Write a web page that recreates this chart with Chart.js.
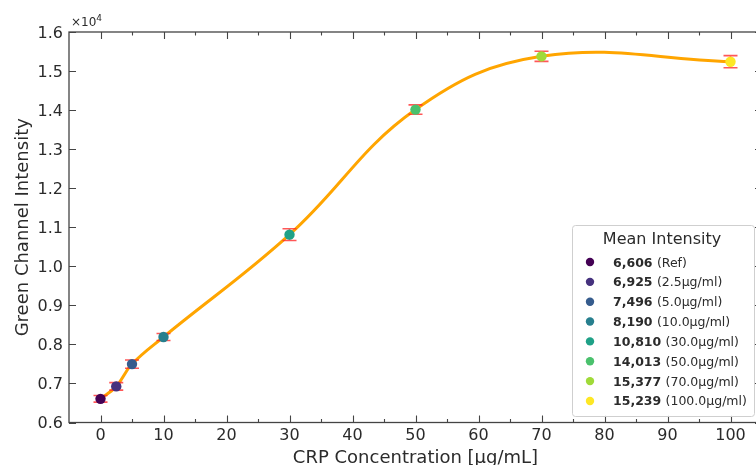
<!DOCTYPE html>
<html>
<head>
<meta charset="utf-8">
<script src="https://cdn.jsdelivr.net/npm/chart.js@4.4.1/dist/chart.umd.min.js"></script>
<style>
    html, body { margin: 0; padding: 0; background: #fff; overflow: hidden; }
    #wrap { width: 756px; height: 465px; overflow: hidden; }
</style>
</head>
<body>
<div id="wrap"><canvas id="myChart" width="775" height="465"></canvas></div>
<script>
// CRP concentration (µg/mL) vs mean green channel intensity
const concentrations = [0, 2.5, 5, 10, 30, 50, 70, 100]
const intensities = [6606, 6925, 7496, 8190, 10810, 14013, 15377, 15239]
const errors = [85, 95, 105, 90, 150, 120, 130, 155]
const legendLabels = ['(Ref)', '(2.5µg/ml)', '(5.0µg/ml)', '(10.0µg/ml)', '(30.0µg/ml)', '(50.0µg/ml)', '(70.0µg/ml)', '(100.0µg/ml)']
// viridis, one colour per sample
const pointColors = ['#440154', '#46327e', '#365c8d', '#277f8e', '#1fa187', '#4ac16d', '#a0da39', '#fde725']

const xTicks = [0, 10, 20, 30, 40, 50, 60, 70, 80, 90, 100]
const xMinorTicks = [5, 15, 25, 35, 45, 55, 65, 75, 85, 95]
const yTicks = [6000, 7000, 8000, 9000, 10000, 11000, 12000, 13000, 14000, 15000, 16000]

const xTitle = 'CRP Concentration [µg/mL]'
const yTitle = 'Green Channel Intensity'
const legendTitle = 'Mean Intensity'

const textColor = '#2b2b2b'
const spineColor = '#444'
const font = '"DejaVu Sans", Verdana, sans-serif'

const points = concentrations.map((c, i) => ({ x: c, y: intensities[i] }))

// error bars go in between the curve and the markers
const errorBars = {
    id: 'errorBars',
    beforeDatasetDraw(chart, args) {
        if (args.index !== 0) return
        const { ctx } = chart
        const x = chart.scales.x
        const y = chart.scales.y
        ctx.save()
        ctx.strokeStyle = 'rgba(255, 45, 45, 0.8)'
        ctx.lineWidth = 1.6
        concentrations.forEach((c, i) => {
            const px = x.getPixelForValue(c)
            const top = y.getPixelForValue(intensities[i] + errors[i])
            const bot = y.getPixelForValue(intensities[i] - errors[i])
            ctx.beginPath()
            ctx.moveTo(px, top); ctx.lineTo(px, bot)
            ctx.moveTo(px - 7, top); ctx.lineTo(px + 7, top)
            ctx.moveTo(px - 7, bot); ctx.lineTo(px + 7, bot)
            ctx.stroke()
        })
        ctx.restore()
    }
}

// matplotlib-style frame: spines, inward ticks, labels, titles and legend
const frame = {
    id: 'frame',
    afterDraw(chart) {
        const { ctx, chartArea: a } = chart
        const x = chart.scales.x
        const y = chart.scales.y
        ctx.save()

        ctx.strokeStyle = spineColor
        ctx.lineWidth = 1.3
        ctx.strokeRect(a.left, a.top, a.right - a.left, a.bottom - a.top)

        ctx.lineWidth = 1.1
        ctx.beginPath()
        xTicks.forEach(v => {
            const px = Math.round(x.getPixelForValue(v)) + 0.5
            ctx.moveTo(px, a.bottom); ctx.lineTo(px, a.bottom - 7)
            ctx.moveTo(px, a.top); ctx.lineTo(px, a.top + 7)
        })
        xMinorTicks.forEach(v => {
            const px = Math.round(x.getPixelForValue(v)) + 0.5
            ctx.moveTo(px, a.bottom); ctx.lineTo(px, a.bottom - 3.5)
            ctx.moveTo(px, a.top); ctx.lineTo(px, a.top + 3.5)
        })
        yTicks.forEach(v => {
            const py = Math.round(y.getPixelForValue(v)) + 0.5
            ctx.moveTo(a.left, py); ctx.lineTo(a.left + 7, py)
            ctx.moveTo(a.right, py); ctx.lineTo(a.right - 7, py)
        })
        ctx.stroke()

        ctx.fillStyle = textColor
        ctx.font = '16px ' + font
        ctx.textAlign = 'center'
        xTicks.forEach(v => ctx.fillText(String(v), x.getPixelForValue(v), a.bottom + 17.5))
        ctx.textAlign = 'right'
        yTicks.forEach(v => ctx.fillText((v / 1e4).toFixed(1), a.left - 6, y.getPixelForValue(v) + 5.8))

        // offset text
        ctx.textAlign = 'left'
        ctx.font = '12px ' + font
        ctx.fillText('×10', a.left + 2, a.top - 6)
        const w = ctx.measureText('×10').width
        ctx.font = '9px ' + font
        ctx.fillText('4', a.left + 2 + w, a.top - 11)

        ctx.font = '18px ' + font
        ctx.textAlign = 'center'
        ctx.fillText(xTitle, (a.left + a.right) / 2, a.bottom + 40.5)
        ctx.save()
        ctx.translate(28, (a.top + a.bottom) / 2)
        ctx.rotate(-Math.PI / 2)
        ctx.fillText(yTitle, 0, 0)
        ctx.restore()

        // legend box
        const lx = 572, ly = 225, lw = 182, lh = 191
        ctx.beginPath()
        ctx.roundRect(lx + 0.5, ly + 0.5, lw, lh, 3)
        ctx.fillStyle = 'rgba(255, 255, 255, 0.85)'
        ctx.fill()
        ctx.strokeStyle = '#cfcfcf'
        ctx.lineWidth = 1
        ctx.stroke()

        ctx.fillStyle = textColor
        ctx.font = '16px ' + font
        ctx.textAlign = 'center'
        ctx.fillText(legendTitle, lx + 90, ly + 18.5)

        ctx.textAlign = 'left'
        intensities.forEach((v, i) => {
            const cy = ly + 37 + i * 19.85
            ctx.beginPath()
            ctx.arc(lx + 18, cy, 4.2, 0, Math.PI * 2)
            ctx.fillStyle = pointColors[i]
            ctx.fill()
            ctx.fillStyle = textColor
            ctx.font = 'bold 12.5px ' + font
            const value = v.toLocaleString('en-US')
            ctx.fillText(value, lx + 41, cy + 4.5)
            const vw = ctx.measureText(value + ' ').width
            ctx.font = '12.5px ' + font
            ctx.fillText(legendLabels[i], lx + 41 + vw, cy + 4.5)
        })

        ctx.restore()
    }
}

const config = {
    type: 'scatter',
    data: {
        datasets: [{
            label: 'Mean Intensity',
            data: points,
            pointRadius: 5.2,
            pointBackgroundColor: pointColors,
            pointBorderWidth: 0,
            order: 0
        }, {
            label: 'Fit',
            data: points,
            showLine: true,
            borderColor: '#ffa500',
            borderWidth: 3,
            tension: 0.4,
            pointRadius: 0,
            order: 1
        }]
    },
    options: {
        responsive: false,
        animation: false,
        events: [],
        layout: {
            padding: { left: 69, top: 32, right: 13, bottom: 42.5 }
        },
        scales: {
            x: { type: 'linear', min: -5, max: 105, display: false },
            y: { type: 'linear', min: 6000, max: 16000, display: false }
        },
        plugins: {
            legend: { display: false },
            tooltip: { enabled: false }
        }
    },
    plugins: [errorBars, frame]
}

new Chart(document.getElementById('myChart'), config)
</script>
</body>
</html>
